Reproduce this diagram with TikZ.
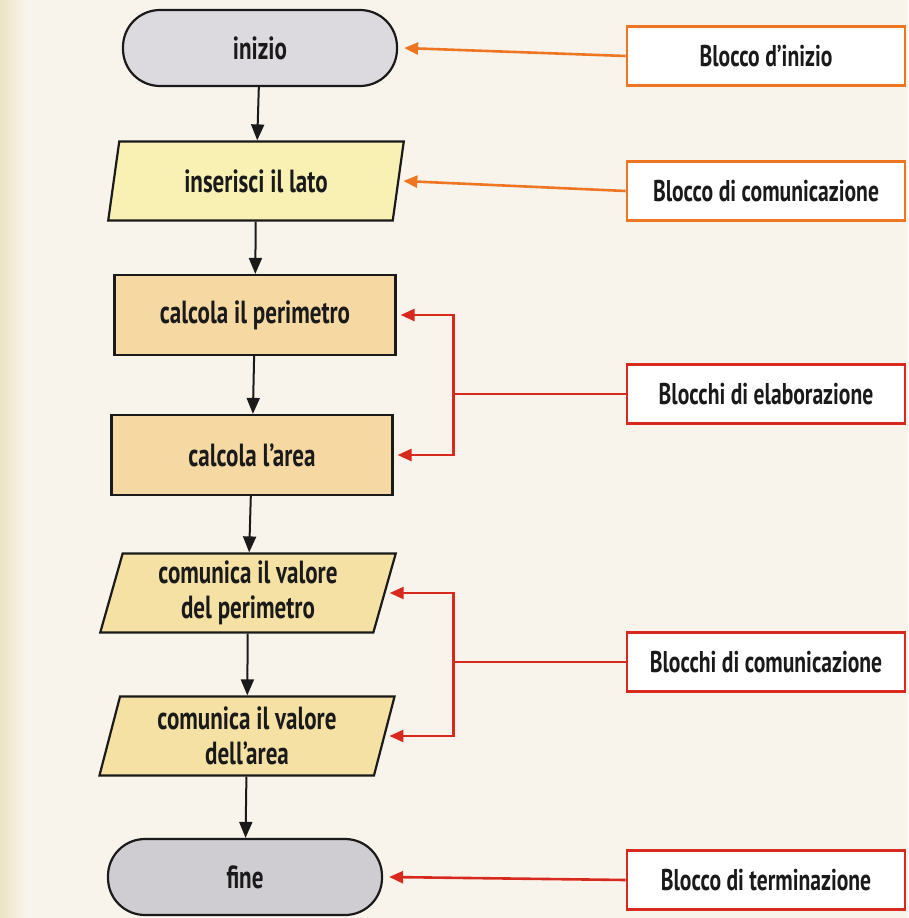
\documentclass[tikz,border=0pt]{standalone}
\usepackage{fontspec}
\setmainfont{PT Sans}[FakeStretch=0.72]
\usetikzlibrary{shapes.geometric,arrows.meta}

\definecolor{paper}{HTML}{F8F4EC}
\definecolor{paperedge}{HTML}{EEE3C4}
\definecolor{termgrey}{HTML}{DCDADE}
\definecolor{endgrey}{HTML}{CFCDD2}
\definecolor{inputfill}{HTML}{F9F1B4}
\definecolor{procfill}{HTML}{F5D8A2}
\definecolor{outfill}{HTML}{F6E1A5}
\definecolor{callorange}{HTML}{EE7522}
\definecolor{callred}{HTML}{D8291F}
\definecolor{ink}{HTML}{1A1A1A}

\tikzset{
  flow/.style={draw=ink, line width=2.2pt, text=ink, align=center, inner sep=0pt,
    font=\bfseries\fontsize{32}{35}\selectfont},
  term/.style={flow, rectangle, rounded corners=37pt, minimum width=274pt, minimum height=76pt},
  io/.style={flow, trapezium, trapezium left angle=76, trapezium right angle=104,
    trapezium stretches=true, minimum width=296pt, minimum height=79pt},
  proc/.style={flow, rectangle, fill=procfill, minimum width=281pt, minimum height=80pt},
  callout/.style={rectangle, line width=2.6pt, fill=white, text=ink, inner sep=0pt,
    minimum width=278pt, minimum height=59pt, font=\bfseries\fontsize{30}{33}\selectfont},
  flowarrow/.style={draw=ink, line width=2pt, -{Triangle[length=16pt,width=13pt]}},
  callarrow/.style={line width=2.6pt, -{Triangle[length=14pt,width=12pt]}},
  callline/.style={line width=2.6pt}
}

\begin{document}
\begin{tikzpicture}[x=1pt,y=-1pt]
  % page
  \fill[paper] (0,0) rectangle (908,918);
  \shade[left color=paperedge, right color=paper] (0,0) rectangle (26,918);
  \useasboundingbox (0,0) rectangle (908,918);

  % flowchart
  \node[term, fill=termgrey] (start) at (260,48)  {inizio};
  \node[io, fill=inputfill]  (ins)   at (256,181) {inserisci il lato};
  \node[proc]                (per)   at (255,315) {calcola il perimetro};
  \node[proc]                (area)  at (252,455) {calcola l’area};
  \node[io, fill=outfill]    (oper)  at (248,593) {comunica il valore\\del perimetro};
  \node[io, fill=outfill]    (oarea) at (247,736) {comunica il valore\\dell’area};
  \node[term, fill=endgrey]  (stop)  at (245,877) {fine};

  \draw[flowarrow] (start) -- (ins);
  \draw[flowarrow] (ins)   -- (per);
  \draw[flowarrow] (per)   -- (area);
  \draw[flowarrow] (area)  -- (oper);
  \draw[flowarrow] (oper)  -- (oarea);
  \draw[flowarrow] (oarea) -- (stop);

  % callouts
  \node[callout, draw=callorange] (c1) at (766,56)  {Blocco d’inizio};
  \node[callout, draw=callorange] (c2) at (766,191) {Blocco di comunicazione};
  \node[callout, draw=callred]    (c3) at (766,394) {Blocchi di elaborazione};
  \node[callout, draw=callred]    (c4) at (766,662) {Blocchi di comunicazione};
  \node[callout, draw=callred]    (c5) at (766,880) {Blocco di terminazione};

  \draw[callarrow, callorange] (c1.west) -- ([xshift=6pt]start.east);
  \draw[callarrow, callorange] (c2.west) -- ([xshift=4pt]ins.east);

  \coordinate (j1) at ([xshift=-172pt]c3.west);
  \coordinate (j2) at ([xshift=-172pt]c4.west);
  \draw[callline, callred] (c3.west) -- (j1);
  \draw[callarrow, callred] (j1) |- ([xshift=4pt]per.east);
  \draw[callarrow, callred] (j1) |- ([xshift=4pt]area.east);
  \draw[callline, callred] (c4.west) -- (j2);
  \draw[callarrow, callred] (j2) |- ([xshift=4pt]oper.east);
  \draw[callarrow, callred] (j2) |- ([xshift=4pt]oarea.east);
  \draw[callarrow, callred] (c5.west) -- ([xshift=6pt]stop.east);
\end{tikzpicture}
\end{document}
